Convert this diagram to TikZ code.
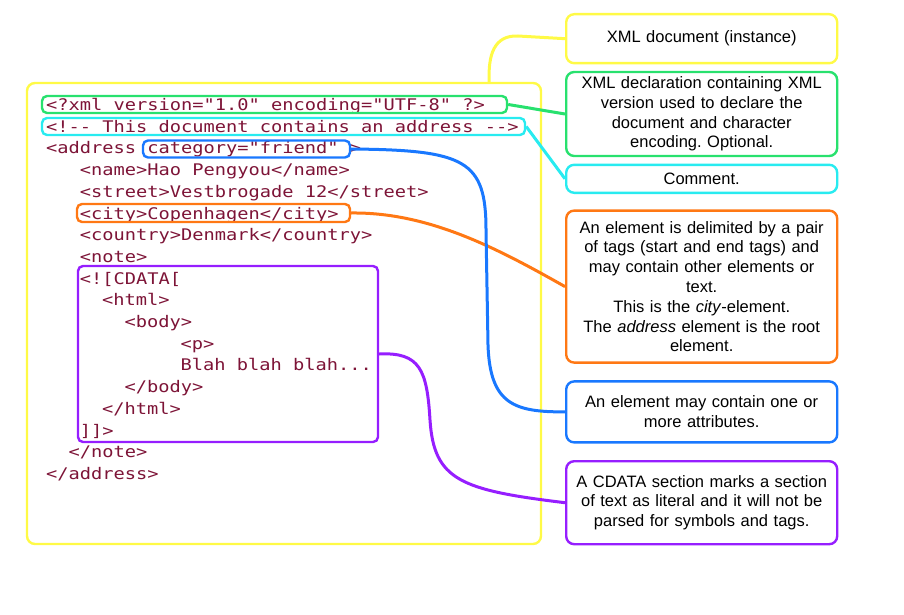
\documentclass[tikz,border=0pt]{standalone}
\usepackage{fontspec}
\setmainfont{Liberation Sans}
\setmonofont{DejaVu Sans Mono}[FakeStretch=1.168]
\usepackage{tikz}
\usetikzlibrary{positioning}
\definecolor{xmlyellow}{RGB}{255,250,70}
\definecolor{declgreen}{RGB}{40,225,110}
\definecolor{commentcyan}{RGB}{40,235,240}
\definecolor{attrblue}{RGB}{25,120,255}
\definecolor{cityorange}{RGB}{255,120,20}
\definecolor{cdatapurple}{RGB}{150,30,255}
\definecolor{codered}{RGB}{125,20,55}
\newcommand\notewidth{271pt}
\tikzset{
    code/.style={anchor=west, inner sep=0pt, text height=13pt, text depth=0pt, text=codered, font=\ttfamily\fontsize{16}{19}\selectfont},
    hlbox/.style={draw=#1, line width=2.4pt, rounded corners=5pt, inner sep=0pt},
    note/.style={draw=#1, line width=2.4pt, rounded corners=8pt, minimum width=\notewidth, text width=262pt, align=center, inner sep=4pt, font=\fontsize{16.5}{19.8}\selectfont\frenchspacing},
    link/.style={draw=#1, line width=3pt},
}

\begin{document}
\begin{tikzpicture}[x=1pt,y=-1pt]
    \useasboundingbox (0,0) rectangle (904,615);
    % the document and its lines
    \node[hlbox=xmlyellow, rounded corners=8pt, minimum width=514pt, minimum height=461pt] (xmlbox) at (284,313.5) {};
    \node[code] (l1) at (46,104) {<?xml version="1.0" encoding="UTF-8" ?>};
    \node[code] (l2) at (46,125.7) {<!-{}- This document contains an address -{}->};
    \node[code] (l3) at (46,147.4) {<address category="friend" >};
    \node[code] (l4) at (79.6,169.1) {<name>Hao Pengyou</name>};
    \node[code] (l5) at (79.6,190.8) {<street>Vestbrogade 12</street>};
    \node[code] (l6) at (79.6,212.5) {<city>Copenhagen</city>};
    \node[code] (l7) at (79.6,234.2) {<country>Denmark</country>};
    \node[code] (l8) at (79.6,255.9) {<note>};
    \node[code] (l9) at (79.6,277.6) {<![CDATA[};
    \node[code] (l10) at (102,299.3) {<html>};
    \node[code] (l11) at (124.4,321) {<body>};
    \node[code] (l12) at (180.4,342.7) {<p>};
    \node[code] (l13) at (180.4,364.4) {Blah blah blah...};
    \node[code] (l14) at (124.4,386.1) {</body>};
    \node[code] (l15) at (102,407.8) {</html>};
    \node[code] (l16) at (79.6,429.5) {]]>};
    \node[code] (l17) at (68.4,451.2) {</note>};
    \node[code] (l18) at (46,472.9) {</address>};
    % highlights
    \node[hlbox=declgreen, minimum width=465pt, minimum height=17pt] (decl) at (274.5,104.5) {};
    \node[hlbox=commentcyan, minimum width=483pt, minimum height=17pt] (comment) at (283.5,126.5) {};
    \node[hlbox=attrblue, minimum width=207pt, minimum height=17pt] (attr) at (246.5,149) {};
    \node[hlbox=cityorange, minimum width=273pt, minimum height=18pt] (city) at (213.5,213) {};
    \node[hlbox=cdatapurple, minimum width=300pt, minimum height=176pt] (cdata) at (228,354) {};
    % notes
    \node[note=xmlyellow, minimum height=49pt, anchor=north west] (doc) at (565,13) {XML document (instance)};
    \node[note=declgreen, minimum height=84pt, below=6.4pt of doc] (declnote) {XML declaration containing XML\\ version used to declare the\\ document and character\\ encoding. Optional.};
    \node[note=commentcyan, minimum height=28pt, below=6.4pt of declnote] (comnote) {Comment.};
    \node[note=cityorange, minimum height=152pt, below=15.4pt of comnote] (citynote) {An element is delimited by a pair\\ of tags (start and end tags) and\\ may contain other elements or\\ text.\\ This is the \textit{city}-element.\\ The \textit{address} element is the root\\ element.};
    \node[note=attrblue, minimum height=61pt, below=16.4pt of citynote] (attrnote) {An element may contain one or\\ more attributes.};
    \node[note=cdatapurple, minimum height=83pt, below=16.4pt of attrnote] (cdatanote) {A CDATA section marks a section\\ of text as literal and it will not be\\ parsed for symbols and tags.};
    % connectors
    \draw[link=xmlyellow] (doc.west) -- (518,36) .. controls (494,35) and (488,55) .. ([xshift=-53pt]xmlbox.north east);
    \draw[link=declgreen] (decl.east) -- (declnote.west);
    \draw[link=commentcyan] (comment.east) -- (comnote.west);
    \draw[link=cityorange] (city.east) .. controls (430,212) and (500,250) .. (citynote.west);
    \draw[link=attrblue] (attr.east) .. controls (465,150) and (486,160) .. (486,230) -- (488,345) .. controls (490,405) and (515,412) .. (attrnote.west);
    \draw[link=cdatapurple] (cdata.east) .. controls (420,352) and (427,370) .. (430,420) .. controls (434,480) and (460,490) .. (cdatanote.west);
\end{tikzpicture}
\end{document}
